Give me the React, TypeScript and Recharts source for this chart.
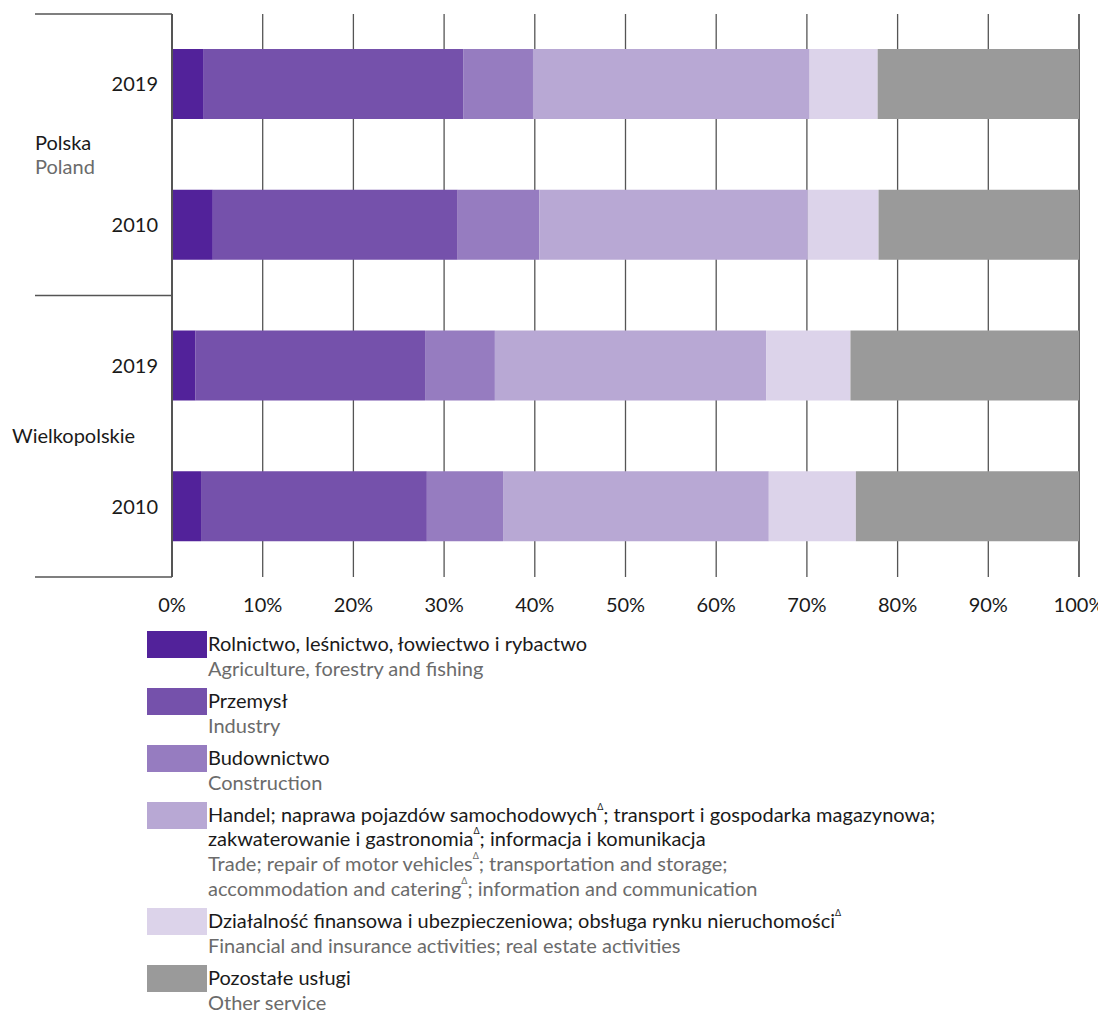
import React from 'react';
import { BarChart, Bar, XAxis, YAxis, CartesianGrid } from 'recharts';

const categories = ['Polska 2019', 'Polska 2010', 'Wielkopolskie 2019', 'Wielkopolskie 2010'];
const yearLabels = ['2019', '2010', '2019', '2010'];
const groupLabelsPl = ['Polska', 'Wielkopolskie'];
const groupLabelsEn = ['Poland', ''];

const agriculture = [3.5, 4.5, 2.6, 3.2];
const industry = [28.6, 27.0, 25.3, 24.9];
const construction = [7.7, 9.0, 7.7, 8.4];
const trade = [30.5, 29.6, 29.9, 29.3];
const finance = [7.5, 7.8, 9.3, 9.6];
const otherServices = [22.2, 22.1, 25.2, 24.6];

const xTicks = [0, 10, 20, 30, 40, 50, 60, 70, 80, 90, 100];

const seriesKeys = ['agriculture', 'industry', 'construction', 'trade', 'finance', 'other'];
const seriesColors = ['#52229a', '#7551ab', '#967cc0', '#b8a8d4', '#dcd3ea', '#9a9a9a'];
const legendPl: string[][] = [
  ['Rolnictwo, leśnictwo, łowiectwo i rybactwo'],
  ['Przemysł'],
  ['Budownictwo'],
  ['Handel; naprawa pojazdów samochodowychΔ; transport i gospodarka magazynowa;', 'zakwaterowanie i gastronomiaΔ; informacja i komunikacja'],
  ['Działalność finansowa i ubezpieczeniowa; obsługa rynku nieruchomościΔ'],
  ['Pozostałe usługi'],
];
const legendEn: string[][] = [
  ['Agriculture, forestry and fishing'],
  ['Industry'],
  ['Construction'],
  ['Trade; repair of motor vehiclesΔ; transportation and storage;', 'accommodation and cateringΔ; information and communication'],
  ['Financial and insurance activities; real estate activities'],
  ['Other service'],
];

const data = categories.map((name, i) => ({
  name,
  agriculture: agriculture[i],
  industry: industry[i],
  construction: construction[i],
  trade: trade[i],
  finance: finance[i],
  other: otherServices[i],
}));

const FONT = 'Lato, "Noto Sans", sans-serif';
const CHART_W = 1098;
const CHART_H = 609;
const MARGIN = { top: 6, right: 27, bottom: 0, left: 0 };
const YAXIS_W = 164;
const XAXIS_H = 40;
const PLOT_H = CHART_H - MARGIN.top - MARGIN.bottom - XAXIS_H;
const TICK_MARGIN_Y = 14;
const LINE_X = 27;
const GROUP_LABEL_X = [27, 4];
const LINE_COLOR = '#555555';
const TEXT_DARK = '#1a1a1a';
const TEXT_GRAY = '#6b6b6b';

const YTick = (props: any) => {
  const { x, y, index } = props;
  const band = PLOT_H / categories.length;
  const axisX = x + TICK_MARGIN_Y;
  const isGroupStart = index % 2 === 0;
  const g = Math.floor(index / 2);
  const mid = y + band / 2;
  const hasEn = groupLabelsEn[g] !== '';
  return (
    <g>
      <text x={x} y={y} dy={7} textAnchor="end" fill={TEXT_DARK} fontSize={20} fontFamily={FONT}>
        {yearLabels[index]}
      </text>
      {isGroupStart && (
        <>
          <line x1={LINE_X} x2={axisX} y1={y - band / 2} y2={y - band / 2} stroke={LINE_COLOR} strokeWidth={1.5} />
          <text x={GROUP_LABEL_X[g]} y={hasEn ? mid - 5 : mid + 7} fill={TEXT_DARK} fontSize={20} fontFamily={FONT}>
            {groupLabelsPl[g]}
          </text>
          {hasEn && (
            <text x={GROUP_LABEL_X[g]} y={mid + 19} fill={TEXT_GRAY} fontSize={20} fontFamily={FONT}>
              {groupLabelsEn[g]}
            </text>
          )}
        </>
      )}
      {index === categories.length - 1 && (
        <line x1={LINE_X} x2={axisX} y1={y + band / 2} y2={y + band / 2} stroke={LINE_COLOR} strokeWidth={1.5} />
      )}
    </g>
  );
};

const renderWithSup = (s: string) => {
  const parts = s.split('Δ');
  const out: React.ReactNode[] = [];
  parts.forEach((p, i) => {
    out.push(<span key={'p' + i}>{p}</span>);
    if (i < parts.length - 1) {
      out.push(
        <sup key={'s' + i} style={{ fontSize: 9, verticalAlign: 'top', lineHeight: '12px', position: 'relative', top: -1 }}>
          Δ
        </sup>
      );
    }
  });
  return out;
};

const Legend = () => (
  <div style={{ marginLeft: 139, paddingTop: 14, fontFamily: FONT, fontSize: 20 }}>
    {seriesKeys.map((k, i) => (
      <div key={k} style={{ display: 'flex', alignItems: 'flex-start', marginBottom: 7.5 }}>
        <div style={{ width: 60, height: 27, background: seriesColors[i], marginTop: 0, flex: 'none' }} />
        <div style={{ marginLeft: 1, lineHeight: '24.7px' }}>
          {legendPl[i].map((l, j) => (
            <div key={'pl' + j} style={{ color: TEXT_DARK, whiteSpace: 'nowrap' }}>{renderWithSup(l)}</div>
          ))}
          {legendEn[i].map((l, j) => (
            <div key={'en' + j} style={{ color: TEXT_GRAY, whiteSpace: 'nowrap' }}>{renderWithSup(l)}</div>
          ))}
        </div>
      </div>
    ))}
  </div>
);

export default function App() {
  return (
    <div style={{ width: CHART_W, fontFamily: FONT }}>
      <BarChart width={CHART_W} height={CHART_H} data={data} layout="vertical" margin={MARGIN}>
        <CartesianGrid horizontal={false} vertical={true} stroke={LINE_COLOR} strokeWidth={1.3} />
        <XAxis
          type="number"
          domain={[0, 100]}
          ticks={xTicks}
          interval={0}
          tickFormatter={(v: number) => `${v}%`}
          axisLine={false}
          tickLine={false}
          tickSize={0}
          tickMargin={21}
          height={XAXIS_H}
          tick={{ fill: TEXT_DARK, fontSize: 20, fontFamily: FONT }}
        />
        <YAxis
          type="category"
          dataKey="name"
          width={YAXIS_W}
          axisLine={{ stroke: LINE_COLOR, strokeWidth: 2 }}
          tickLine={false}
          tickSize={0}
          tickMargin={TICK_MARGIN_Y}
          interval={0}
          tick={<YTick />}
        />
        {seriesKeys.map((k, i) => (
          <Bar key={k} dataKey={k} stackId="a" fill={seriesColors[i]} barSize={70} isAnimationActive={false} />
        ))}
      </BarChart>
      <Legend />
    </div>
  );
}
